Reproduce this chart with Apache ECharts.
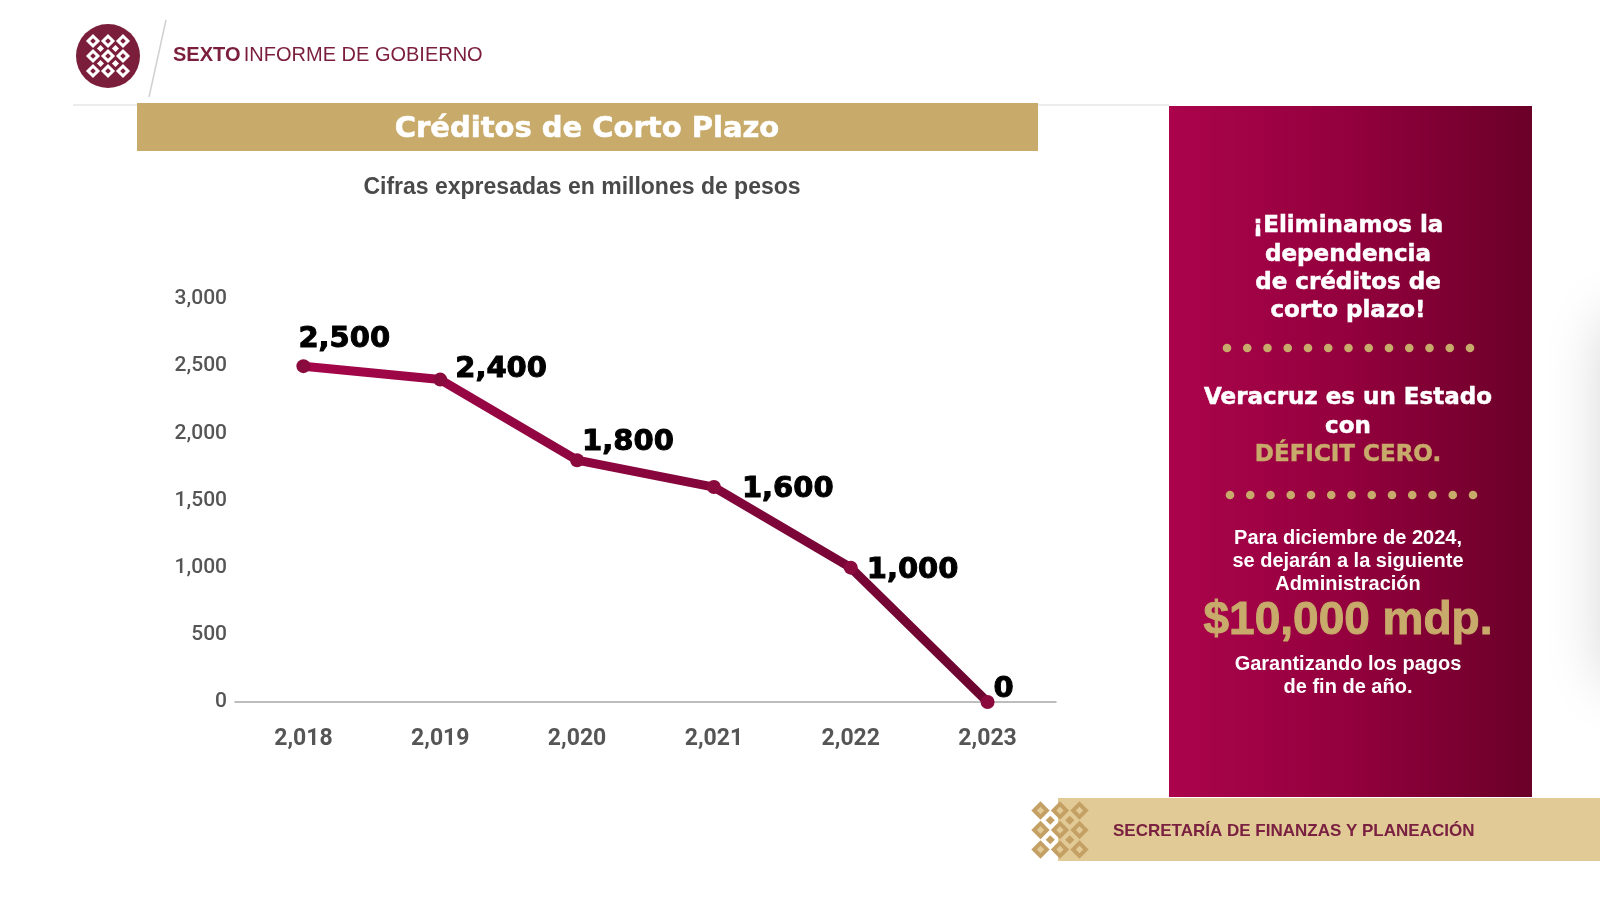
<!DOCTYPE html>
<html>
<head>
<meta charset="utf-8">
<script src="https://cdn.jsdelivr.net/npm/echarts@6/dist/echarts.min.js"></script>
<style>
html,body{margin:0;padding:0;background:#fff;}
#chart{width:1600px;height:900px;}
</style>
</head>
<body>
<div id="chart"></div>
<script>
// ---- data ----
var categories = ['2,018', '2,019', '2,020', '2,021', '2,022', '2,023'];
var values = [2500, 2400, 1800, 1600, 1000, 0];
var yTicks = [0, 500, 1000, 1500, 2000, 2500, 3000];

var chart = echarts.init(document.getElementById('chart'));

// label placement (style)
var labelOffsets = [[-5, -27], [15, -10], [5, -18], [28, 2], [16, 3], [6, -13]];

var maroon = '#7b1e3c';
var gold = '#c8aa6a';
var sans = '"Liberation Sans", Arial, sans-serif';
var heavy = '"DejaVu Sans", sans-serif';

function diamond(cx, cy, s, fill, inner, innerFill) {
  var arr = [{
    type: 'rect', x: cx, y: cy, rotation: Math.PI / 4,
    shape: { x: -s / 2, y: -s / 2, width: s, height: s },
    style: { fill: fill }, silent: true, z: 20
  }];
  if (inner) {
    arr.push({
      type: 'rect', x: cx, y: cy, rotation: Math.PI / 4,
      shape: { x: -inner / 2, y: -inner / 2, width: inner, height: inner },
      style: { fill: innerFill }, silent: true, z: 21
    });
  }
  return arr;
}

function logo(cx, cy, color, bg, scale) {
  var g = [];
  var pts = [[-15, -15], [0, -15], [15, -15], [-15, 0], [0, 0], [15, 0], [-15, 15], [0, 15], [15, 15]];
  pts.forEach(function (p) {
    g = g.concat(diamond(cx + p[0] * scale, cy + p[1] * scale, 10 * scale, color, 4 * scale, bg));
  });
  var links = [[-7.5, -7.5], [7.5, -7.5], [-7.5, 7.5], [7.5, 7.5]];
  links.forEach(function (p) {
    g = g.concat(diamond(cx + p[0] * scale, cy + p[1] * scale, 5 * scale, color));
  });
  return g;
}

var graphics = [];
graphics.push({ type: 'circle', shape: { cx: 108, cy: 56, r: 32 }, style: { fill: maroon }, silent: true, z: 10 });
graphics = graphics.concat(logo(108, 56, '#ffffff', maroon, 1));
graphics.push({ type: 'line', shape: { x1: 166, y1: 20, x2: 149, y2: 97 }, style: { stroke: '#d0d0d0', lineWidth: 1.5 }, silent: true });
graphics.push({ type: 'line', shape: { x1: 73, y1: 105, x2: 1169, y2: 105 }, style: { stroke: '#e6e6e6', lineWidth: 1.5 }, silent: true });
graphics.push({
  type: 'text', x: 173, y: 55,
  style: {
    text: '{b|SEXTO} {r|INFORME DE GOBIERNO}',
    verticalAlign: 'middle',
    rich: {
      b: { fontFamily: sans, fontWeight: 'bold', fontSize: 20, fill: maroon },
      r: { fontFamily: sans, fontWeight: 'normal', fontSize: 20, fill: maroon }
    }
  }, silent: true
});
graphics.push({ type: 'rect', shape: { x: 137, y: 103, width: 901, height: 48 }, style: { fill: gold }, silent: true });
graphics.push({
  type: 'text', x: 587, y: 129,
  style: { text: 'Créditos de Corto Plazo', fill: '#fff', stroke: '#fff', lineWidth: 0.6, fontFamily: heavy, fontWeight: 'bold', fontSize: 29, align: 'center', verticalAlign: 'middle' },
  silent: true
});
graphics.push({
  type: 'text', x: 582, y: 188,
  style: { text: 'Cifras expresadas en millones de pesos', fill: '#4a4a4a', fontFamily: sans, fontWeight: 'bold', fontSize: 23, align: 'center', verticalAlign: 'middle' },
  silent: true
});
// right edge shadow (soft glow from an off-canvas shape)
graphics.push({
  type: 'rect', shape: { x: 1615, y: 320, width: 80, height: 360 },
  style: { fill: '#ffffff', shadowBlur: 60, shadowColor: 'rgba(0,0,0,0.18)', shadowOffsetX: -10 },
  silent: true
});
graphics.push({
  type: 'rect', shape: { x: 1169, y: 106, width: 363, height: 691 },
  style: { fill: { type: 'linear', x: 0, y: 0, x2: 1, y2: 0, colorStops: [{ offset: 0, color: '#ab044c' }, { offset: 0.5, color: '#93003d' }, { offset: 1, color: '#6a0028' }] } },
  silent: true
});
function ptext(t, y, size, color, fam, sw) {
  var c = color || '#fff';
  return {
    type: 'text', x: 1348, y: y,
    style: { text: t, fill: c, stroke: c, lineWidth: sw || 0, fontFamily: fam || sans, fontWeight: 'bold', fontSize: size, align: 'center', verticalAlign: 'middle' },
    silent: true, z: 5
  };
}
graphics.push(ptext('¡Eliminamos la', 226, 23, null, heavy, 0.5));
graphics.push(ptext('dependencia', 255, 23, null, heavy, 0.5));
graphics.push(ptext('de créditos de', 283, 23, null, heavy, 0.5));
graphics.push(ptext('corto plazo!', 311, 23, null, heavy, 0.5));
for (var i = 0; i < 13; i++) {
  graphics.push({ type: 'circle', shape: { cx: 1227 + i * 20.25, cy: 348, r: 4.3 }, style: { fill: gold }, silent: true, z: 5 });
  graphics.push({ type: 'circle', shape: { cx: 1230 + i * 20.25, cy: 495, r: 4.3 }, style: { fill: gold }, silent: true, z: 5 });
}
graphics.push(ptext('Veracruz es un Estado', 398, 23, null, heavy, 0.5));
graphics.push(ptext('con', 427, 23, null, heavy, 0.5));
graphics.push(ptext('DÉFICIT CERO.', 455, 23, gold, heavy, 0.5));
graphics.push(ptext('Para diciembre de 2024,', 538, 20));
graphics.push(ptext('se dejarán a la siguiente', 561, 20));
graphics.push(ptext('Administración', 584, 20));
graphics.push(ptext('$10,000 mdp.', 621, 46, gold, sans, 1));
graphics.push(ptext('Garantizando los pagos', 664, 20));
graphics.push(ptext('de fin de año.', 687, 20));
graphics.push({ type: 'rect', shape: { x: 1058, y: 798, width: 542, height: 63 }, style: { fill: '#e1ca95' }, silent: true });
graphics = graphics.concat(logo(1060, 830, '#c5a064', '#e1ca95', 1.3));
graphics.push({
  type: 'text', x: 1113, y: 831,
  style: { text: 'SECRETARÍA DE FINANZAS Y PLANEACIÓN', fill: '#7a2040', fontFamily: sans, fontWeight: 'bold', fontSize: 17, verticalAlign: 'middle' },
  silent: true
});

var option = {
  backgroundColor: '#ffffff',
  animation: false,
  grid: { left: 235, right: 544, top: 299, bottom: 198, containLabel: false },
  xAxis: {
    type: 'category',
    data: categories,
    boundaryGap: true,
    axisLine: { show: true, lineStyle: { color: '#a8a8a8', width: 1.5 } },
    axisTick: { show: false },
    axisLabel: { color: '#555', fontFamily: 'Roboto', fontWeight: 'bold', fontSize: 23, margin: 26 }
  },
  yAxis: {
    type: 'value',
    min: yTicks[0],
    max: yTicks[yTicks.length - 1],
    interval: yTicks[1] - yTicks[0],
    axisLine: { show: false },
    axisTick: { show: false },
    splitLine: { show: false },
    axisLabel: {
      color: '#555', fontFamily: 'Roboto', fontWeight: 500, fontSize: 21, margin: 8,
      formatter: function (v) { return v.toLocaleString('en-US'); }
    }
  },
  series: [{
    type: 'line',
    data: values.map(function (v, i) {
      return { value: v, label: { offset: labelOffsets[i] } };
    }),
    symbol: 'circle',
    symbolSize: 14,
    lineStyle: {
      width: 9,
      color: { type: 'linear', x: 0, y: 0, x2: 1, y2: 0, colorStops: [{ offset: 0, color: '#a5064a' }, { offset: 1, color: '#6c0530' }] }
    },
    itemStyle: { color: '#8a0a3e' },
    label: {
      show: true,
      position: 'inside',
      align: 'left',
      verticalAlign: 'middle',
      color: '#000',
      textBorderColor: '#000',
      textBorderWidth: 1,
      fontFamily: '"DejaVu Sans"',
      fontWeight: 'bold',
      fontSize: 29,
      formatter: function (p) { return p.value.toLocaleString('en-US'); }
    },
    z: 3
  }],
  graphic: { elements: graphics }
};
chart.setOption(option);
</script>
</body>
</html>
